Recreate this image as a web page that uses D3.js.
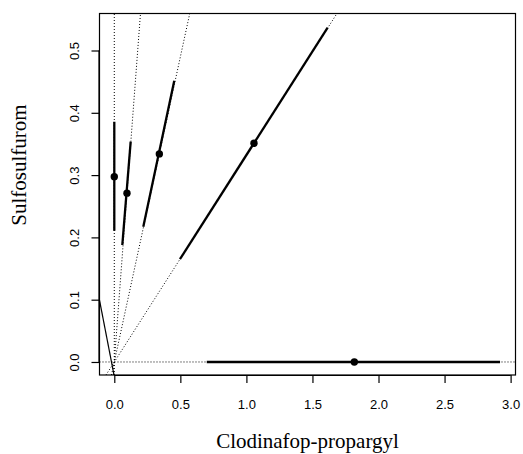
<!DOCTYPE html>
<html>
<head>
<meta charset="utf-8">
<script src="https://cdn.jsdelivr.net/npm/d3@7/dist/d3.min.js"></script>
<style>
  html, body { margin: 0; padding: 0; background: #fff; }
  svg { display: block; }
</style>
</head>
<body>
<div id="chart"></div>
<script>
// ---- data ----
const pointX = [0.0, 0.096, 0.341, 1.0575, 1.817];
const pointY = [0.2975, 0.271, 0.334, 0.351, 0.0];
const lowX   = [0.0, 0.0606, 0.2195, 0.497, 0.70];
const lowY   = [0.2108, 0.1878, 0.2172, 0.165, 0.0];
const highX  = [0.0, 0.124, 0.454, 1.615, 2.92];
const highY  = [0.3857, 0.3536, 0.4515, 0.5366, 0.0];
// solid reference line y = a + b*x
const lineIntercept = -0.0232;
const lineSlope = -1.093;
const xTicks = [0, 0.5, 1, 1.5, 2, 2.5, 3];
const yTicks = [0, 0.1, 0.2, 0.3, 0.4, 0.5];
const xLabel = "Clodinafop-propargyl";
const yLabel = "Sulfosulfurom";

// ---- layout ----
const W = 523, H = 454;
const L = 99.5, R = 515.5, T = 13.5, B = 375;

const x = d3.scaleLinear().domain([-0.112, 3.037]).range([L, R]);
const y = d3.scaleLinear().domain([-0.0209, 0.5594]).range([B, T]);

const svg = d3.select("#chart").append("svg")
  .attr("width", W).attr("height", H);

svg.append("defs").append("clipPath").attr("id", "clip")
  .append("rect").attr("x", L).attr("y", T).attr("width", R - L).attr("height", B - T);

const g = svg.append("g").attr("clip-path", "url(#clip)");

const [xd0, xd1] = x.domain();
const [yd0, yd1] = y.domain();

// dotted rays through the origin and each point
pointX.forEach((px, i) => {
  const py = pointY[i];
  let p1, p2;
  if (px === 0) { p1 = [0, yd0]; p2 = [0, yd1]; }
  else if (py === 0) { p1 = [xd0, 0]; p2 = [xd1, 0]; }
  else {
    const s = py / px;
    p1 = [yd0 / s, yd0]; p2 = [yd1 / s, yd1];
  }
  g.append("line")
    .attr("x1", x(p1[0])).attr("y1", y(p1[1]))
    .attr("x2", x(p2[0])).attr("y2", y(p2[1]))
    .attr("stroke", "#000").attr("stroke-width", 1)
    .attr("stroke-dasharray", "1,2");
});

// solid reference line
g.append("line")
  .attr("x1", x(xd0)).attr("y1", y(lineIntercept + lineSlope * xd0))
  .attr("x2", x(0.1)).attr("y2", y(lineIntercept + lineSlope * 0.1))
  .attr("stroke", "#000").attr("stroke-width", 1.2);

// thick interval segments
pointX.forEach((px, i) => {
  g.append("line")
    .attr("x1", x(lowX[i])).attr("y1", y(lowY[i]))
    .attr("x2", x(highX[i])).attr("y2", y(highY[i]))
    .attr("stroke", "#000").attr("stroke-width", 2.3);
});

// points
g.selectAll("circle.pt").data(pointX).enter().append("circle")
  .attr("class", "pt")
  .attr("cx", (d) => x(d))
  .attr("cy", (d, i) => y(pointY[i]))
  .attr("r", 3.7)
  .attr("fill", "#000");

// box
svg.append("rect")
  .attr("x", L).attr("y", T).attr("width", R - L).attr("height", B - T)
  .attr("fill", "none").attr("stroke", "#000").attr("stroke-width", 1.2);

// x axis
const xAxis = d3.axisBottom(x).tickValues(xTicks).tickSize(8).tickPadding(17)
  .tickFormat(d3.format(".1f"));
const gx = svg.append("g").attr("transform", `translate(0,${B})`).call(xAxis);
gx.select(".domain").attr("d", `M${x(0)},0.5H${x(3)}`).attr("stroke-width", 1.2);
gx.selectAll(".tick line").attr("stroke-width", 1.2);
gx.selectAll("text")
  .attr("font-family", "'Liberation Sans', Arial, sans-serif")
  .attr("font-size", 13).attr("fill", "#000");

// y axis
const yAxis = d3.axisLeft(y).tickValues(yTicks).tickSize(8).tickFormat(d3.format(".1f"));
const gy = svg.append("g").attr("transform", `translate(${L},0)`).call(yAxis);
gy.select(".domain").attr("d", `M-0.5,${y(0)}V${y(0.5)}`).attr("stroke-width", 1.2);
gy.selectAll(".tick line").attr("stroke-width", 1.2);
gy.selectAll(".tick text")
  .attr("x", null).attr("dy", null)
  .attr("transform", "translate(-20.5,0) rotate(-90)")
  .attr("text-anchor", "middle")
  .attr("font-family", "'Liberation Sans', Arial, sans-serif")
  .attr("font-size", 13).attr("fill", "#000");

// titles
svg.append("text")
  .attr("x", (L + R) / 2).attr("y", 448)
  .attr("text-anchor", "middle")
  .attr("font-family", "'Liberation Serif', 'Times New Roman', serif")
  .attr("font-size", 21).attr("fill", "#000")
  .text(xLabel);

svg.append("text")
  .attr("transform", "translate(26,165) rotate(-90)")
  .attr("text-anchor", "middle")
  .attr("font-family", "'Liberation Serif', 'Times New Roman', serif")
  .attr("font-size", 21).attr("fill", "#000")
  .text(yLabel);
</script>
</body>
</html>
